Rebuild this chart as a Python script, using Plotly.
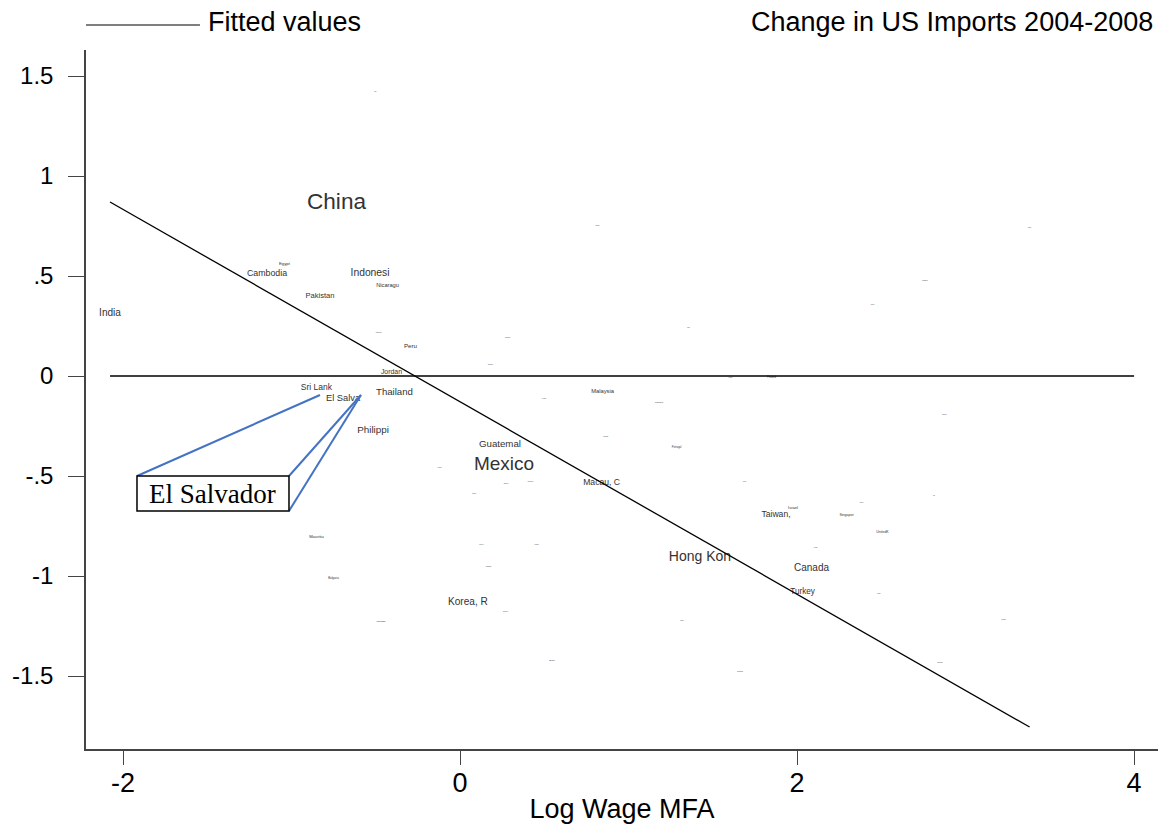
import plotly.graph_objects as go

# Country labels (Stata-style truncated names), log wage, change in imports, label size
countries = [
    "China", "Indonesi", "Cambodia", "Egypt", "Nicaragu", "Pakistan", "India",
    "Kenya", "Peru", "Jordan", "Sri Lank", "Thailand", "El Salva", "Philippi",
    "Guatemal", "Mexico", "Macau, C", "Malaysia", "Mauritiu", "Bulgaria",
    "Korea, R", "Israel", "Taiwan,", "Singapor", "UnitedK", "Hong Kon",
    "Canada", "Turkey", "Romania", "Portugal", "Finland", "Brazil", "Madagasc",
    "Haiti", "Colombia", "Dominica", "Chile", "Poland", "Hungary", "Honduras",
    "Costa Ri", "Morocco", "Tunisia", "Argentin", "South Af", "Lesotho",
    "Swazilan", "Czech Re", "Spain", "Greece", "Italy", "Ireland", "Austria",
    "Australi", "Denmark", "Germany", "Japan", "Switzerl", "France", "Belgium",
    "Sweden", "Norway",
]
log_wage = [
    -0.733, -0.534, -1.145, -1.042, -0.430, -0.831, -2.077,
    -0.484, -0.294, -0.407, -0.852, -0.389, -0.694, -0.516,
    0.237, 0.261, 0.840, 0.846, -0.852, -0.751,
    0.047, 1.976, 1.875, 2.294, 2.507, 1.424,
    2.086, 2.033, 1.181, 1.285, 1.849, 0.546, -0.469,
    -0.504, 0.282, 0.181, 1.356, 1.605, 0.499, 0.864,
    0.273, 0.418, 0.083, -0.122, 0.128, 0.454,
    0.169, 0.270, 1.688, 2.383, 2.813, 2.110, 2.484,
    1.315, 1.662, 2.849, 3.380, 2.760, 2.448, 2.875,
    3.226, 0.816,
]
import_change = [
    0.865, 0.515, 0.510, 0.560, 0.450, 0.400, 0.315,
    0.220, 0.150, 0.017, -0.058, -0.083, -0.113, -0.273,
    -0.342, -0.445, -0.533, -0.080, -0.807, -1.010,
    -1.132, -0.662, -0.695, -0.698, -0.780, -0.908,
    -0.962, -1.082, -0.130, -0.358, -0.008, -1.420, -1.227,
    1.423, 0.193, 0.058, 0.243, -0.007, -0.112, -0.305,
    -0.537, -0.528, -0.587, -0.457, -0.845, -0.845,
    -0.952, -1.177, -0.530, -0.632, -0.600, -0.857, -1.087,
    -1.222, -1.480, -1.432, 0.743, 0.478, 0.358, -0.192,
    -1.217, 0.753,
]
label_size = [
    22.6, 10.3, 8.8, 4.3, 5.7, 7.6, 10.1,
    2.0, 6.2, 6.9, 8.5, 9.6, 9.3, 9.9,
    9.7, 19.0, 8.6, 5.8, 4.1, 2.9,
    10.1, 4.1, 8.6, 3.6, 3.5, 14.0,
    10.0, 8.2, 2.0, 2.6, 2.6, 2.2, 2.0,
    1.2, 1.2, 1.2, 1.2, 1.2, 1.2, 1.2,
    1.2, 1.4, 1.2, 1.2, 1.2, 1.2,
    1.4, 1.2, 1.2, 1.2, 1.2, 1.2, 1.2,
    1.2, 1.4, 1.4, 1.2, 1.6, 1.2, 1.2,
    1.2, 1.2,
]

# Fitted values line endpoints and the zero reference line
fit_x = [-2.077, 3.380]
fit_y = [0.870, -1.755]
zero_x = [-2.077, 4.0]
zero_y = [0.0, 0.0]

y_ticks = [1.5, 1, 0.5, 0, -0.5, -1, -1.5]
y_tick_text = ["1.5", "1", ".5", "0", "-.5", "-1", "-1.5"]
x_ticks = [-2, 0, 2, 4]
x_tick_text = ["-2", "0", "2", "4"]

FONT = "Arial, Liberation Sans, sans-serif"

fig = go.Figure()

fig.add_trace(go.Scatter(
    x=log_wage, y=import_change, mode="text", text=countries,
    textposition="middle center",
    textfont=dict(family=FONT, size=label_size, color="#333333"),
    showlegend=False, hoverinfo="skip",
))
fig.add_trace(go.Scatter(
    x=zero_x, y=zero_y, mode="lines",
    line=dict(color="black", width=1.3), showlegend=False, hoverinfo="skip",
))
fig.add_trace(go.Scatter(
    x=fit_x, y=fit_y, mode="lines",
    line=dict(color="black", width=1.3), showlegend=False, hoverinfo="skip",
))

# Callout pointing at El Salvador's label
i_sv = countries.index("El Salva")
sv_x, sv_y = log_wage[i_sv], import_change[i_sv]
left_end = (sv_x - 0.137, sv_y + 0.018)
right_end = (sv_x + 0.106, sv_y + 0.018)
box = dict(x0=-1.917, x1=-1.015, y0=-0.675, y1=-0.500)
blue = "#4472C4"
shapes = [
    dict(type="line", xref="x", yref="y", x0=box["x0"], y0=box["y1"],
         x1=left_end[0], y1=left_end[1], line=dict(color=blue, width=2)),
    dict(type="line", xref="x", yref="y", x0=box["x1"], y0=box["y1"],
         x1=right_end[0], y1=right_end[1], line=dict(color=blue, width=2)),
    dict(type="line", xref="x", yref="y", x0=box["x1"], y0=box["y0"],
         x1=right_end[0], y1=right_end[1], line=dict(color=blue, width=2)),
    dict(type="rect", xref="x", yref="y", x0=box["x0"], x1=box["x1"],
         y0=box["y0"], y1=box["y1"], fillcolor="white",
         line=dict(color="black", width=1.5)),
    # legend key for the fitted line
    dict(type="line", xref="paper", yref="paper", x0=0.0, x1=0.1063,
         y0=1.0358, y1=1.0358, line=dict(color="black", width=1.2)),
]

annotations = [
    dict(x=(box["x0"] + box["x1"]) / 2, y=(box["y0"] + box["y1"]) / 2,
         xref="x", yref="y", text="El Salvador", showarrow=False,
         font=dict(family="Times New Roman, Liberation Serif, serif", size=27, color="black")),
    dict(x=0.1119, y=1.0395, xref="paper", yref="paper", text="Fitted values",
         showarrow=False, xanchor="left", yanchor="middle",
         font=dict(family=FONT, size=27, color="black")),
    dict(x=0.997, y=1.0395, xref="paper", yref="paper",
         text="Change in US Imports 2004-2008", showarrow=False,
         xanchor="right", yanchor="middle",
         font=dict(family=FONT, size=27, color="black")),
]

fig.update_layout(
    width=1164, height=825,
    margin=dict(l=86, r=6, t=50, b=76, autoexpand=False),
    paper_bgcolor="white", plot_bgcolor="white",
    shapes=shapes, annotations=annotations,
    showlegend=False,
    xaxis=dict(
        range=[-2.2196, 4.142], tickvals=x_ticks, ticktext=x_tick_text,
        automargin=False,
        showgrid=False, zeroline=False, showline=True, linecolor="#444444",
        linewidth=1.5, ticks="outside", ticklen=14, tickcolor="#444444",
        tickwidth=1, tickfont=dict(family=FONT, size=27, color="black"),
        ticklabelstandoff=-5,
        title=dict(text="Log Wage MFA", font=dict(family=FONT, size=27, color="black"),
                   standoff=2),
    ),
    yaxis=dict(
        range=[-1.865, 1.63], tickvals=y_ticks, ticktext=y_tick_text,
        automargin=False,
        showgrid=False, zeroline=False, showline=True, linecolor="#444444",
        linewidth=1.5, ticks="outside", ticklen=16, tickcolor="#444444",
        tickwidth=1, tickfont=dict(family=FONT, size=24, color="black"),
        ticklabelstandoff=10,
    ),
)

fig.write_html("out.html")
